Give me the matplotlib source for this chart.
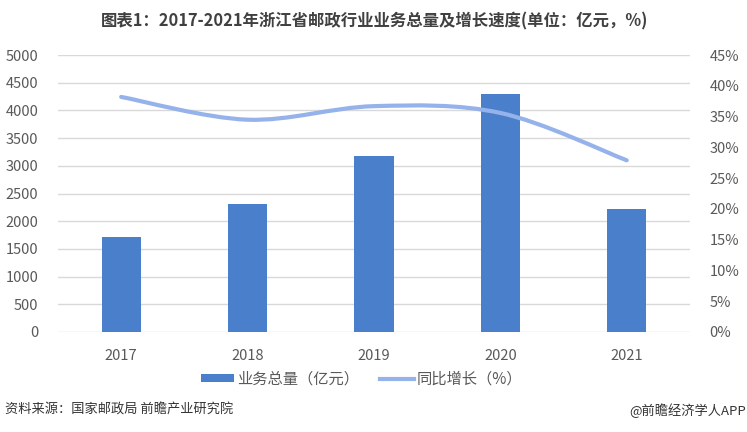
import matplotlib
matplotlib.use("Agg")
import matplotlib.pyplot as plt
import numpy as np
from matplotlib.path import Path
from matplotlib.patches import PathPatch, Patch
from matplotlib.lines import Line2D
from matplotlib.ticker import FuncFormatter, MultipleLocator

plt.rcParams['font.family'] = ['Noto Sans CJK SC', 'DejaVu Sans']

# Data
years = ['2017', '2018', '2019', '2020', '2021']
volume = [1715, 2310, 3180, 4296, 2220]          # 业务总量（亿元）
growth = [38.2, 34.5, 36.7, 35.6, 27.9]          # 同比增长（%）

title = '图表1：2017-2021年浙江省邮政行业业务总量及增长速度(单位：亿元，%)'
bar_label = '业务总量（亿元）'
line_label = '同比增长（%）'
source = '资料来源：国家邮政局 前瞻产业研究院'
credit = '@前瞻经济学人APP'

BAR = '#4a80cb'
LINE = '#95b3ea'
TXT = '#595959'
GRID = '#d9d9d9'


def smooth_path(x, y, t=1/6):
    # Excel-like smoothed line: Catmull-Rom drawn as cubic Bezier segments
    x = np.asarray(x, float)
    y = np.asarray(y, float)
    verts = [(x[0], y[0])]
    codes = [Path.MOVETO]
    n = len(x)
    for i in range(n - 1):
        x0, y0 = (x[i - 1], y[i - 1]) if i > 0 else (x[i], y[i])
        x3, y3 = (x[i + 2], y[i + 2]) if i + 2 < n else (x[i + 1], y[i + 1])
        c1 = (x[i] + (x[i + 1] - x0) * t, y[i] + (y[i + 1] - y0) * t)
        c2 = (x[i + 1] - (x3 - x[i]) * t, y[i + 1] - (y3 - y[i]) * t)
        verts += [c1, c2, (x[i + 1], y[i + 1])]
        codes += [Path.CURVE4] * 3
    return Path(verts, codes)


fig = plt.figure(figsize=(7.47, 4.32), dpi=100)
ax = fig.add_axes([0.0776, 0.2315, 0.846, 0.641])
ax2 = ax.twinx()

xpos = np.arange(len(years))
ax.bar(xpos, volume, width=0.31, color=BAR, zorder=3)
ax.set_xlim(-0.5, len(years) - 0.5)
ax.set_ylim(0, 5000)
ax.yaxis.set_major_locator(MultipleLocator(500))
ax.grid(axis='y', color=GRID, linewidth=1, zorder=0)
ax.set_axisbelow(True)
ax.set_xticks(xpos)
ax.set_xticklabels(years)

ax2.set_ylim(0, 45)
ax2.yaxis.set_major_locator(MultipleLocator(5))
ax2.yaxis.set_major_formatter(FuncFormatter(lambda v, p: f'{v:.0f}%'))
patch = PathPatch(smooth_path(xpos, growth), facecolor='none', edgecolor=LINE,
                  linewidth=3, capstyle='round', zorder=4)
ax2.add_patch(patch)

for a in (ax, ax2):
    for s in a.spines.values():
        s.set_visible(False)
    a.tick_params(length=0, labelsize=10.5, labelcolor=TXT)
ax.tick_params(axis='y', pad=14)
ax.tick_params(axis='x', pad=12)
ax2.tick_params(axis='y', pad=14)

fig.text(0.501, 0.951, title, ha='center', va='center', fontsize=11.8,
         fontweight='bold', color='#404040')

# legend
handles = [Patch(facecolor=BAR, label=bar_label),
           Line2D([0], [0], color=LINE, linewidth=3, label=line_label)]
fig.legend(handles=handles, loc='center', bbox_to_anchor=(0.484, 0.123), ncol=2,
           frameon=False, fontsize=11, labelcolor=TXT, handlelength=2.2,
           handleheight=0.45, handletextpad=0.2, columnspacing=1.35)

fig.text(0.007, 0.05, source, ha='left', va='center', fontsize=9.5, color='#333333')
fig.text(0.999, 0.05, credit, ha='right', va='center', fontsize=9.5, color='#333333')

fig.savefig('out.png', dpi=100)
